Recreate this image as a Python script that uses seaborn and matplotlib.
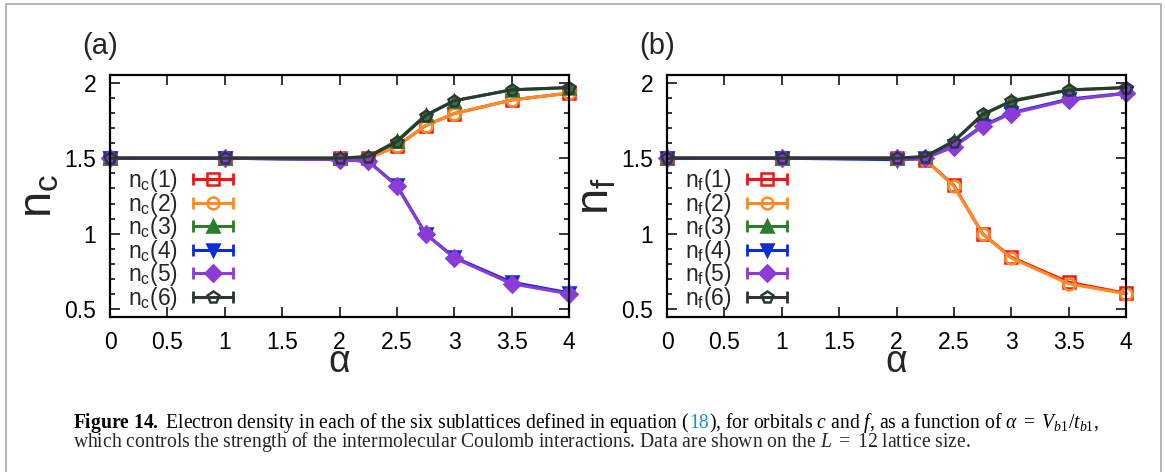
import matplotlib
matplotlib.use("Agg")
import matplotlib.pyplot as plt
import seaborn as sns
from matplotlib.lines import Line2D
from matplotlib.legend_handler import HandlerBase
from matplotlib.ticker import MultipleLocator

# alpha = V_b1 / t_b1
alpha = [0, 1, 2, 2.25, 2.5, 2.75, 3, 3.5, 4]

# (a) orbital c, sublattices 1..6
nc1 = [1.50, 1.50, 1.50, 1.50, 1.58, 1.715, 1.795, 1.885, 1.93]
nc2 = [1.50, 1.50, 1.50, 1.50, 1.58, 1.715, 1.795, 1.885, 1.93]
nc3 = [1.50, 1.50, 1.50, 1.51, 1.615, 1.785, 1.88, 1.952, 1.967]
nc4 = [1.50, 1.50, 1.49, 1.48, 1.32, 1.00, 0.845, 0.68, 0.61]
nc5 = [1.50, 1.50, 1.49, 1.48, 1.315, 1.00, 0.84, 0.67, 0.603]
nc6 = [1.50, 1.50, 1.50, 1.51, 1.608, 1.781, 1.88, 1.952, 1.967]

# (b) orbital f, sublattices 1..6
nf1 = [1.50, 1.50, 1.50, 1.49, 1.32, 1.00, 0.845, 0.68, 0.607]
nf2 = [1.50, 1.50, 1.50, 1.49, 1.315, 1.00, 0.84, 0.67, 0.603]
nf3 = [1.50, 1.50, 1.50, 1.51, 1.615, 1.785, 1.88, 1.952, 1.967]
nf4 = [1.50, 1.50, 1.49, 1.50, 1.58, 1.715, 1.80, 1.89, 1.93]
nf5 = [1.50, 1.50, 1.50, 1.50, 1.575, 1.71, 1.795, 1.885, 1.928]
nf6 = [1.50, 1.50, 1.50, 1.51, 1.61, 1.79, 1.875, 1.95, 1.967]

sublattices = ["1", "2", "3", "4", "5", "6"]
colors = ["#f01414", "#ff8a26", "#2a7d2a", "#0a2ed6", "#8b3bd8", "#2c3833"]
markers = ["s", "o", "^", "v", "D", "p"]
filled = [False, False, True, True, True, False]

sns.set_style("ticks")
plt.rcParams["font.family"] = ["Liberation Sans", "DejaVu Sans"]
plt.rcParams["mathtext.fontset"] = "custom"
plt.rcParams["mathtext.rm"] = "Liberation Serif"
plt.rcParams["mathtext.it"] = "Liberation Serif:italic"
plt.rcParams["mathtext.bf"] = "Liberation Serif:bold"
plt.rcParams["mathtext.default"] = "regular"


class ErrKeyHandler(HandlerBase):
    # gnuplot style key: bar with end caps and the point in the middle
    def create_artists(self, legend, orig, xd, yd, width, height, fontsize, trans):
        y = height / 2 - yd
        x0, x1 = -xd, width - xd
        c = orig.get_color()
        bar = Line2D([x0, x1], [y, y], color=c, lw=orig.get_linewidth())
        caps = Line2D([x0, x1], [y, y], ls="none", marker="|", ms=9, mew=2, color=c)
        pt = Line2D([(x0 + x1) / 2], [y], ls="none", marker=orig.get_marker(),
                    ms=orig.get_markersize(), mfc=orig.get_markerfacecolor(),
                    mec=c, mew=orig.get_markeredgewidth())
        for a in (bar, caps, pt):
            a.set_transform(trans)
        return [bar, caps, pt]


W, H = 1165, 472
fig = plt.figure(figsize=(W / 100, H / 100), dpi=100)


def draw_panel(left_px, series, sym, tag):
    ax = fig.add_axes([left_px / W, 1 - 317 / H, 459 / W, 242 / H])
    for vals, lab, c, m, f in zip(series, sublattices, colors, markers, filled):
        sns.lineplot(x=alpha, y=vals, ax=ax, color=c, lw=2.2, marker=m, ms=8.5,
                     mfc=c if f else "none", mec=c, mew=1.8, clip_on=False,
                     label=f"n$_{sym}$({lab})")
    ax.set_xlim(0, 4)
    ax.set_ylim(0.45, 2.05)
    ax.xaxis.set_major_locator(MultipleLocator(0.5))
    ax.yaxis.set_major_locator(MultipleLocator(0.5))
    ax.yaxis.set_minor_locator(MultipleLocator(0.1))
    ax.set_xticklabels([f"{v:g}" for v in ax.get_xticks()])
    ax.set_yticklabels([f"{v:g}" for v in ax.get_yticks()])
    ax.tick_params(which="both", direction="in", top=True, right=True,
                   labelsize=16.5, width=1.1, pad=10, colors="black")
    ax.tick_params(which="major", length=7)
    ax.tick_params(which="minor", length=3.5)
    for s in ax.spines.values():
        s.set_linewidth(1.6)
        s.set_color("black")
        s.set_zorder(5)
    ax.set_xlabel("α", fontsize=27)
    ax.xaxis.set_label_coords(0.5, -0.11)
    ax.set_ylabel(f"n$_{sym}$", fontsize=34, labelpad=2)
    h, l = ax.get_legend_handles_labels()
    ax.legend(h, l, handler_map={Line2D: ErrKeyHandler()}, markerfirst=False,
              frameon=False, loc="upper left", bbox_to_anchor=(0.04, 0.62),
              borderaxespad=0, borderpad=0, handlelength=1.75, handletextpad=0.65,
              labelspacing=-0.15, fontsize=16.5)
    fig.text((left_px - 28) / W, 1 - 46 / H, tag, fontsize=21, va="center", ha="left")
    return ax


draw_panel(110, [nc1, nc2, nc3, nc4, nc5, nc6], "c", "(a)")
draw_panel(667, [nf1, nf2, nf3, nf4, nf5, nf6], "f", "(b)")

# gray frame round the figure
fig.add_artist(Line2D([6 / W, 6 / W, 1161 / W, 1161 / W], [0, 1 - 4 / H, 1 - 4 / H, 0],
                      transform=fig.transFigure, color="#a8a8a8", lw=1.2))

# caption
cap = dict(family=["Liberation Serif", "DejaVu Serif"], fontsize=14.1, va="baseline")
rend = fig.canvas.get_renderer()
line1 = [
    (r"$\mathbf{Figure\ 14.}$ Electron density in each of the six sublattices defined in equation (", "black"),
    ("18", "#1b8fd0"),
    (r"), for orbitals $\mathit{c}$ and $\mathit{f}$, as a function of "
     r"$\mathit{\alpha}\ =\ \mathit{V}_{\mathit{b}1}/\mathit{t}_{\mathit{b}1}$,", "black"),
]
x = 73 / W
for s, c in line1:
    t = fig.text(x, 1 - 428 / H, s, color=c, **cap)
    x += t.get_window_extent(rend).width / W
fig.text(73 / W, 1 - 447 / H,
         r"which controls the strength of the intermolecular Coulomb interactions. "
         r"Data are shown on the $\mathit{L}\ =\ 12$ lattice size.", **cap)

fig.savefig("out.png", dpi=100)
